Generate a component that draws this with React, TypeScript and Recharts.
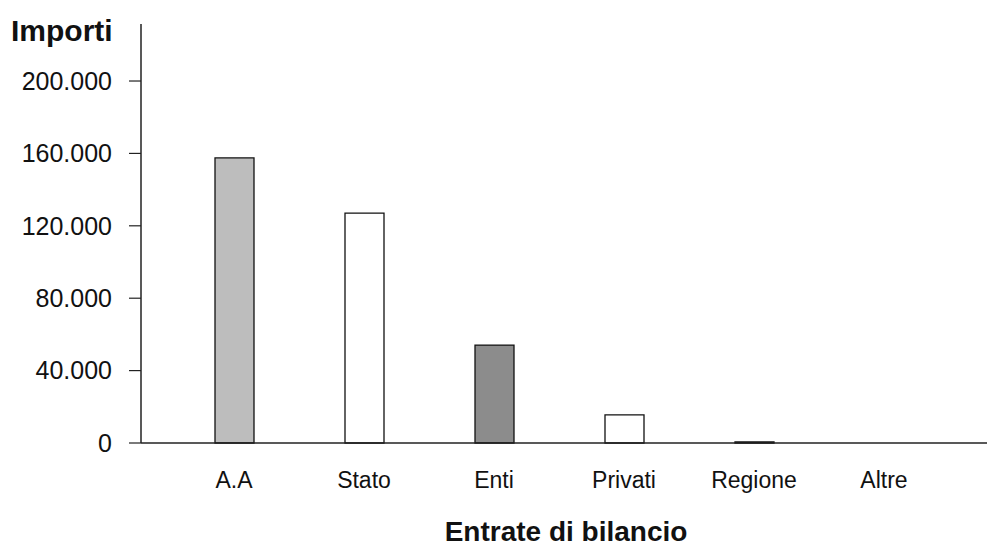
import { BarChart, Bar, Cell, XAxis, YAxis } from 'recharts';

const categories = ['A.A', 'Stato', 'Enti', 'Privati', 'Regione', 'Altre'];
const importi = [157500, 127000, 54100, 15500, 600, 0];
const barColors = ['#bdbdbd', '#ffffff', '#8c8c8c', '#ffffff', '#bdbdbd', '#ffffff'];
const yTicks = [0, 40000, 80000, 120000, 160000, 200000];

const data = categories.map((name, i) => ({ name, value: importi[i] }));

const font = '"Liberation Sans", Arial, sans-serif';

const formatIt = (v: number) => String(v).replace(/\B(?=(\d{3})+(?!\d))/g, '.');

export default function App() {
  return (
    <div style={{ position: 'relative', width: 987, height: 548, fontFamily: font, background: '#fff' }}>
      <style>{'body{margin:0}'}</style>
      <BarChart
        width={987}
        height={548}
        data={data}
        margin={{ top: 24, right: 0, left: 0, bottom: 0 }}
      >
        <XAxis
          dataKey="name"
          height={105}
          padding={{ left: 28, right: 38 }}
          tickLine={false}
          tickSize={0}
          tickMargin={29}
          axisLine={{ stroke: '#222', strokeWidth: 1.5 }}
          tick={{ fill: '#111', fontSize: 23, fontFamily: font }}
        />
        <YAxis
          width={141}
          domain={[0, 231500]}
          ticks={yTicks}
          tickFormatter={formatIt}
          tickSize={12}
          tickMargin={17}
          axisLine={{ stroke: '#222', strokeWidth: 1.5 }}
          tickLine={{ stroke: '#222', strokeWidth: 1.2 }}
          tick={{ fill: '#111', fontSize: 25, fontFamily: font }}
        />
        <Bar dataKey="value" barSize={39} stroke="#111" strokeWidth={1.3} isAnimationActive={false}>
          {data.map((d, i) => (
            <Cell key={d.name} fill={barColors[i]} />
          ))}
        </Bar>
      </BarChart>
      <div
        style={{
          position: 'absolute',
          left: 11,
          top: 16,
          fontSize: 30,
          fontWeight: 'bold',
          color: '#111',
          lineHeight: 1,
        }}
      >
        Importi
      </div>
      <div
        style={{
          position: 'absolute',
          left: 0,
          width: 1132,
          top: 518,
          textAlign: 'center',
          fontSize: 28,
          fontWeight: 'bold',
          color: '#111',
          lineHeight: 1,
        }}
      >
        Entrate di bilancio
      </div>
    </div>
  );
}
